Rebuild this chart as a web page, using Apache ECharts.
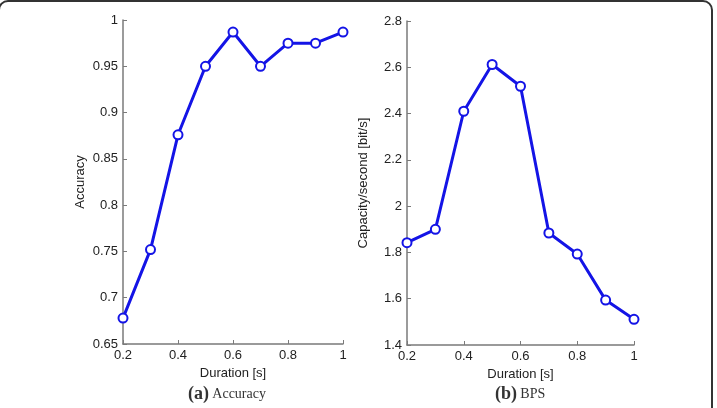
<!DOCTYPE html>
<html>
<head>
<meta charset="utf-8">
<script src="https://cdn.jsdelivr.net/npm/echarts@6/dist/echarts.min.js"></script>
<style>
  html, body { margin: 0; padding: 0; background: #fff; }
  #chart { width: 717px; height: 408px; }
</style>
</head>
<body>
<div id="chart"></div>
<script>
// values
const DURATION = [0.2, 0.3, 0.4, 0.5, 0.6, 0.7, 0.8, 0.9, 1.0];
const ACCURACY = [0.678, 0.752, 0.876, 0.950, 0.987, 0.950, 0.975, 0.975, 0.987];
const BPS = [1.842, 1.900, 2.410, 2.612, 2.518, 1.884, 1.793, 1.594, 1.511];

const X_TICKS = ["0.2", "0.4", "0.6", "0.8", "1"];
const ACC_TICKS = ["0.65", "0.7", "0.75", "0.8", "0.85", "0.9", "0.95", "1"];
const BPS_TICKS = ["1.4", "1.6", "1.8", "2", "2.2", "2.4", "2.6", "2.8"];

const BLUE = "#1414e6";
const AXIS = "#7a7a7a";
const SANS = "Liberation Sans, Arial, sans-serif";
const SERIF = "Liberation Serif, Times New Roman, serif";

const pairs = (ys) => DURATION.map((x, i) => [x, ys[i]]);
const tickFmt = (labels, min, step) => (v) => labels[Math.round((v - min) / step)] ?? "";

function xAxis(idx) {
  return {
    type: "value", gridIndex: idx, min: 0.2, max: 1, interval: 0.2,
    name: "Duration [s]", nameLocation: "middle", nameGap: 21,
    nameTextStyle: { fontFamily: SANS, fontSize: 13, color: "#222" },
    axisLine: { lineStyle: { color: AXIS, width: 1.5 } },
    axisTick: { inside: true, length: 4, lineStyle: { color: AXIS } },
    axisLabel: { fontFamily: SANS, fontSize: 13, color: "#222", margin: 5,
      formatter: tickFmt(X_TICKS, 0.2, 0.2) },
    splitLine: { show: false },
  };
}

function yAxis(idx, min, max, step, labels, name, gap) {
  return {
    type: "value", gridIndex: idx, min, max, interval: step,
    name, nameLocation: "middle", nameGap: gap,
    nameTextStyle: { fontFamily: SANS, fontSize: 13, color: "#222" },
    axisLine: { show: true, lineStyle: { color: AXIS, width: 1.5 } },
    axisTick: { show: true, inside: true, length: 4, lineStyle: { color: AXIS } },
    axisLabel: { fontFamily: SANS, fontSize: 13, color: "#222", margin: 5,
      formatter: tickFmt(labels, min, step) },
    splitLine: { show: false },
  };
}

function lineSeries(idx, ys) {
  return {
    type: "line", xAxisIndex: idx, yAxisIndex: idx, data: pairs(ys),
    symbol: "emptyCircle", symbolSize: 9,
    lineStyle: { color: BLUE, width: 3 },
    itemStyle: { color: BLUE, borderColor: BLUE, borderWidth: 2.5 },
  };
}

const chart = echarts.init(document.getElementById("chart"), null, { renderer: "canvas" });
chart.setOption({
  animation: false,
  backgroundColor: "#fff",
  grid: [
    { left: 123, right: 374, top: 20, bottom: 64 },
    { left: 407, right: 83, top: 21, bottom: 63 },
  ],
  xAxis: [xAxis(0), xAxis(1)],
  yAxis: [
    yAxis(0, 0.65, 1, 0.05, ACC_TICKS, "Accuracy", 36),
    yAxis(1, 1.4, 2.8, 0.2, BPS_TICKS, "Capacity/second [bit/s]", 37),
  ],
  series: [lineSeries(0, ACCURACY), lineSeries(1, BPS)],
  graphic: [
    { type: "rect", z: 100, silent: true,
      shape: { x: -1, y: 1, width: 713, height: 430, r: 9 },
      style: { fill: null, stroke: "#333", lineWidth: 2 } },
    { type: "text", left: 188, top: 385,
      style: { text: "{a|(a)} {b|Accuracy}", rich: {
        a: { fontFamily: SERIF, fontSize: 18, fontWeight: "bold", fill: "#333" },
        b: { fontFamily: SERIF, fontSize: 14, fill: "#333" } } } },
    { type: "text", left: 495, top: 385,
      style: { text: "{a|(b)} {b|BPS}", rich: {
        a: { fontFamily: SERIF, fontSize: 18, fontWeight: "bold", fill: "#333" },
        b: { fontFamily: SERIF, fontSize: 14, fill: "#333" } } } },
  ],
});
</script>
</body>
</html>
